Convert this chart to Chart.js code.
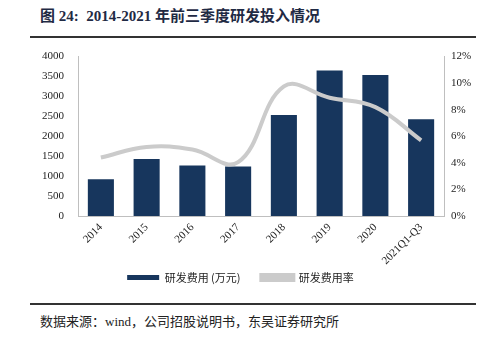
<!DOCTYPE html>
<html>
<head>
<meta charset="utf-8">
<script src="https://cdn.jsdelivr.net/npm/chart.js@4/dist/chart.umd.min.js"></script>
<style>
  body { margin: 0; background: #fff; width: 481px; height: 342px; position: relative; overflow: hidden; }
  .title { position: absolute; left: 40px; top: 4px; font: bold 15px "Liberation Serif", "Noto Sans CJK SC", serif; color: #1f2a44; }
  .rule { position: absolute; left: 30px; width: 446px; height: 2px; background: #333; }
  .src { position: absolute; left: 40px; top: 311px; font: 13px "Liberation Serif", "Noto Sans CJK SC", serif; color: #222; }
  #wrap { position: absolute; left: 0; top: 40px; width: 481px; height: 253px; }
</style>
</head>
<body>
<div class="title">图 24:&nbsp; 2014-2021 年前三季度研发投入情况</div>
<div class="rule" style="top:36px"></div>
<div id="wrap"><canvas id="c"></canvas></div>
<div class="rule" style="top:303px"></div>
<div class="src">数据来源：wind，公司招股说明书，东吴证券研究所</div>
<script>
const years = ['2014', '2015', '2016', '2017', '2018', '2019', '2020', '2021Q1-Q3'];
const rdCost = [925, 1430, 1270, 1245, 2535, 3650, 3540, 2430];
const rdRate = [4.4, 5.2, 5.0, 4.05, 9.75, 8.9, 8.2, 5.7];

const serif = "'Liberation Serif', 'Times New Roman', serif";

new Chart(document.getElementById('c'), {
  type: 'bar',
  data: {
    labels: years,
    datasets: [{
      label: '研发费用 (万元)      ',
      data: rdCost,
      backgroundColor: '#17365d',
      borderColor: '#17365d',
      barPercentage: 0.57,
      categoryPercentage: 1,
      yAxisID: 'y',
      order: 2
    }, {
      type: 'line',
      label: '研发费用率',
      data: rdRate,
      borderColor: '#cbcbcb',
      backgroundColor: '#cbcbcb',
      borderWidth: 4,
      tension: 0.4,
      pointRadius: 0,
      yAxisID: 'y1',
      order: 1
    }]
  },
  options: {
    responsive: true,
    maintainAspectRatio: false,
    animation: false,
    events: [],
    layout: { padding: { top: 12, left: 0, right: 0, bottom: 0 } },
    scales: {
      x: {
        grid: { display: false, drawTicks: false },
        border: { color: '#bfbfbf' },
        ticks: { color: '#222', font: { family: serif, size: 11 }, minRotation: 45, maxRotation: 45, padding: 5 },
        afterFit: s => { s.height = 50; }
      },
      y: {
        position: 'left',
        min: 0, max: 4000,
        grid: { display: false, drawTicks: true, tickLength: 4, tickColor: '#bfbfbf' },
        border: { color: '#bfbfbf' },
        ticks: { stepSize: 500, color: '#222', font: { family: serif, size: 11 }, padding: 10, callback: v => String(v) },
        afterFit: s => { s.width = 78; }
      },
      y1: {
        position: 'right',
        min: 0, max: 12,
        grid: { display: false, drawTicks: true, tickLength: 4, tickColor: '#bfbfbf' },
        border: { color: '#bfbfbf' },
        ticks: { stepSize: 2, color: '#222', font: { family: serif, size: 11 }, padding: 3, callback: v => v + '%' },
        afterFit: s => { s.width = 37; }
      }
    },
    plugins: {
      legend: {
        position: 'bottom',
        labels: {
          boxWidth: 32, boxHeight: 5,
          color: '#222',
          font: { family: "'Noto Sans CJK SC', sans-serif", size: 11 },
          padding: 6,
          sort: (a, b) => a.datasetIndex - b.datasetIndex
        }
      },
      tooltip: { enabled: false }
    }
  }
});
</script>
</body>
</html>
